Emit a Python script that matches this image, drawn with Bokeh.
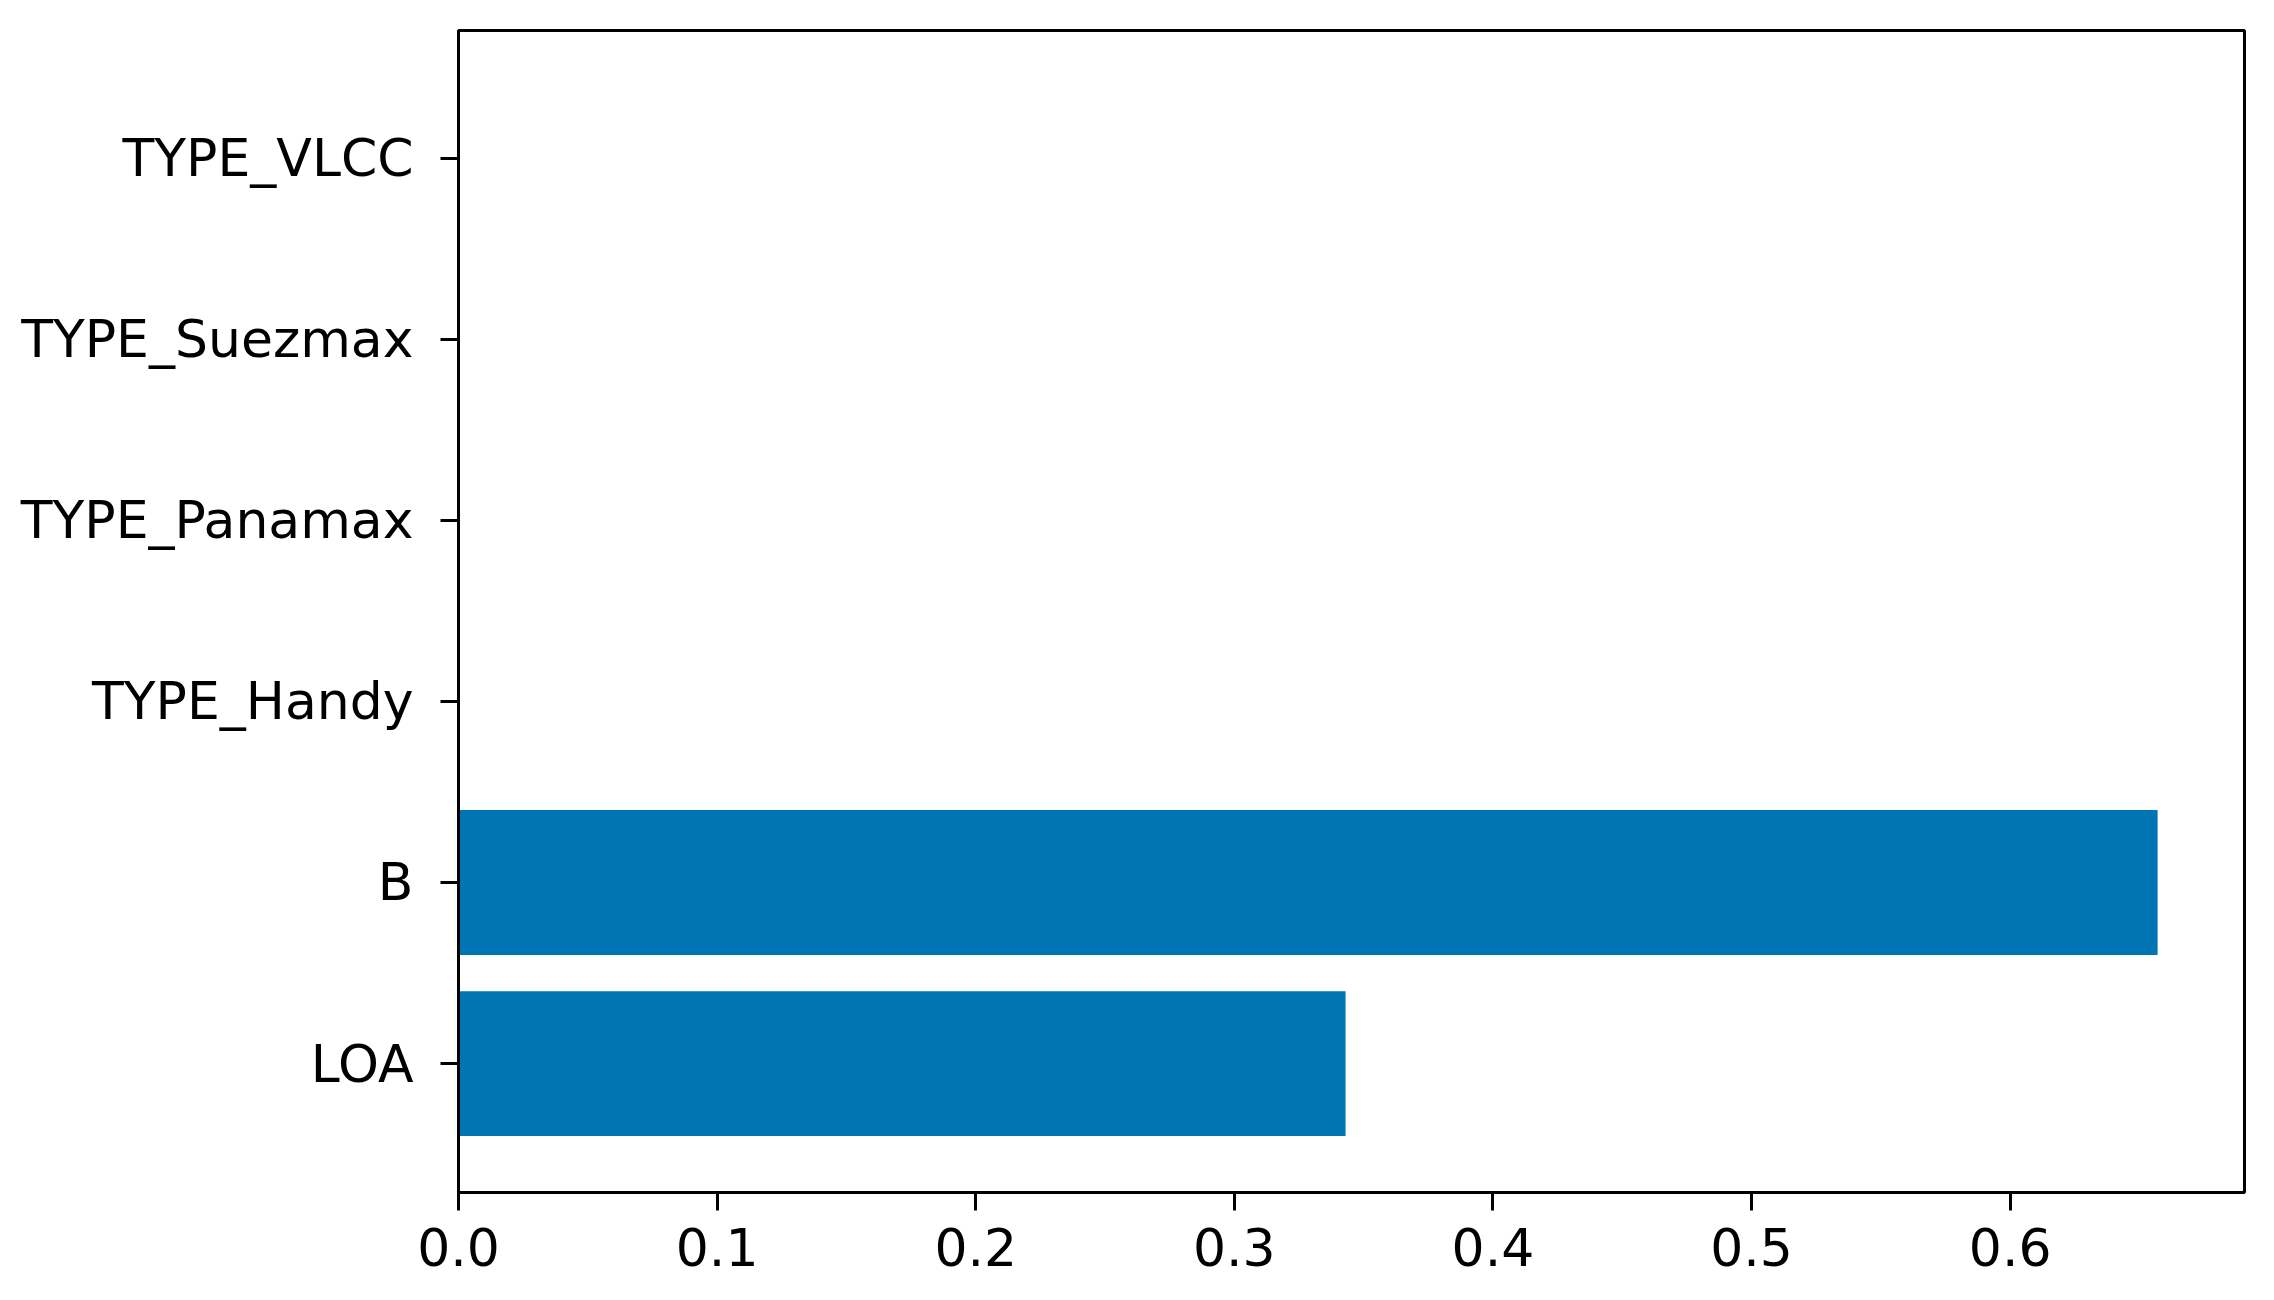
from bokeh.plotting import figure
from bokeh.models import Range1d, FixedTicker, ColumnDataSource
from bokeh.embed import file_html
from bokeh.resources import INLINE

# Data
features = ["LOA", "B", "TYPE_Handy", "TYPE_Panamax", "TYPE_Suezmax", "TYPE_VLCC"]
importances = [0.343, 0.657, 0.0, 0.0, 0.0, 0.0]
x_ticks = [0.0, 0.1, 0.2, 0.3, 0.4, 0.5, 0.6]
x_tick_labels = ["0.0", "0.1", "0.2", "0.3", "0.4", "0.5", "0.6"]

pos = list(range(len(features)))
src = ColumnDataSource(dict(y=pos, right=importances))

p = figure(width=2258, height=1284, output_backend="svg", toolbar_location=None,
           x_range=Range1d(0, 0.6906), y_range=Range1d(-0.712, len(features) - 1 + 0.705),
           min_border_left=458, min_border_top=30, min_border_right=14, min_border_bottom=92)

p.hbar(y="y", right="right", left=0, height=0.8, source=src,
       fill_color="#0175B4", line_color=None)

p.xgrid.visible = False
p.ygrid.visible = False
p.outline_line_color = "#000000"
p.outline_line_width = 3
p.outline_line_alpha = 1
p.background_fill_color = "white"
p.border_fill_color = "white"

p.xaxis.ticker = FixedTicker(ticks=x_ticks)
p.xaxis.major_label_overrides = {t: l for t, l in zip(x_ticks, x_tick_labels)}
p.yaxis.ticker = FixedTicker(ticks=pos)
p.yaxis.major_label_overrides = {i: f for i, f in zip(pos, features)}

for ax in (p.xaxis[0], p.yaxis[0]):
    ax.axis_line_color = "#000000"
    ax.axis_line_width = 3
    ax.major_tick_line_color = "#000000"
    ax.major_tick_line_width = 3
    ax.major_tick_in = 0
    ax.major_tick_out = 18
    ax.minor_tick_line_color = None
    ax.major_label_text_font = "DejaVu Sans"
    ax.major_label_text_font_size = "52px"
    ax.major_label_text_color = "#000000"

p.yaxis.major_label_standoff = 27
p.xaxis.major_label_standoff = 17

open("out.html", "w").write(file_html(p, INLINE))
